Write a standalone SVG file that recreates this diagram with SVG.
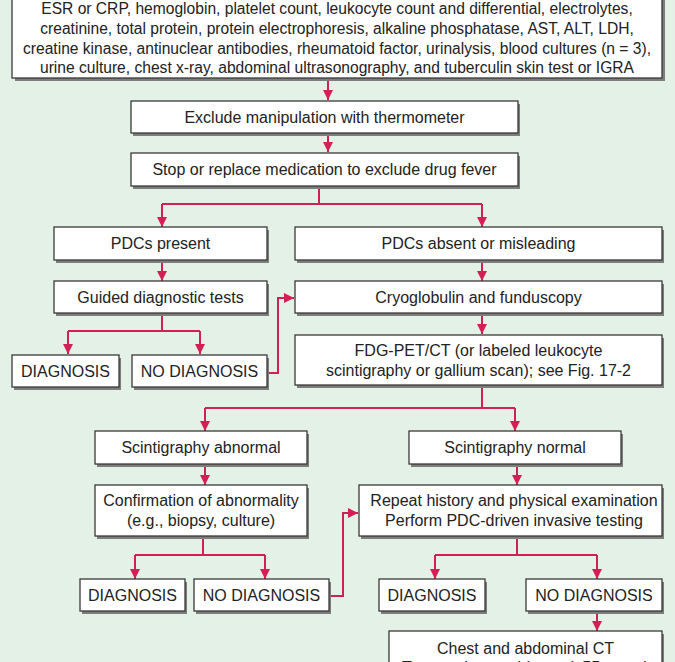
<svg xmlns="http://www.w3.org/2000/svg" width="675" height="662" viewBox="0 0 675 662">
<style>
.bg{fill:#e3f1e6}
.sh{fill:#7d7d7d}
.bx{fill:#ffffff;stroke:#3a3a3a;stroke-width:1.3}
.t{font-family:"Liberation Sans",Arial,sans-serif;font-size:16px;fill:#222;text-anchor:middle}
.tt{font-size:15.6px}
.c{fill:none;stroke:#d21f55;stroke-width:2}
</style>
<defs>
<marker id="ah" viewBox="0 0 10 10" refX="10" refY="5" markerWidth="5" markerHeight="5" orient="auto" markerUnits="strokeWidth">
<path d="M0,0 L10,5 L0,10 Z" fill="#d21f55"/>
</marker>
</defs>
<rect class="bg" x="0" y="0" width="675" height="662"/>

<g id="connectors">
<path class="c" d="M328,78 V100" marker-end="url(#ah)"/>
<path class="c" d="M328,133 V152" marker-end="url(#ah)"/>
<path class="c" d="M319,186 V204"/>
<path class="c" d="M162,204 H482"/>
<path class="c" d="M162,204 V227" marker-end="url(#ah)"/>
<path class="c" d="M482,204 V227" marker-end="url(#ah)"/>
<path class="c" d="M162,260 V281" marker-end="url(#ah)"/>
<path class="c" d="M162,313 V331 M68,331 H200"/>
<path class="c" d="M68,331 V354" marker-end="url(#ah)"/>
<path class="c" d="M200,331 V354" marker-end="url(#ah)"/>
<path class="c" d="M269,373 H278 V298 H294" marker-end="url(#ah)"/>
<path class="c" d="M482,260 V281" marker-end="url(#ah)"/>
<path class="c" d="M482,313 V334" marker-end="url(#ah)"/>
<path class="c" d="M482,385 V408 M205,408 H515"/>
<path class="c" d="M205,408 V431" marker-end="url(#ah)"/>
<path class="c" d="M515,408 V431" marker-end="url(#ah)"/>
<path class="c" d="M205,464 V485" marker-end="url(#ah)"/>
<path class="c" d="M517,464 V485" marker-end="url(#ah)"/>
<path class="c" d="M203,537 V555 M135,555 H265"/>
<path class="c" d="M135,555 V579" marker-end="url(#ah)"/>
<path class="c" d="M265,555 V579" marker-end="url(#ah)"/>
<path class="c" d="M330,596 H343 V513 H358" marker-end="url(#ah)"/>
<path class="c" d="M517,537 V555 M435,555 H597"/>
<path class="c" d="M435,555 V579" marker-end="url(#ah)"/>
<path class="c" d="M597,555 V579" marker-end="url(#ah)"/>
<path class="c" d="M597,611 V631" marker-end="url(#ah)"/>
</g>

<g id="n-initial">
<rect class="sh" x="15" y="-20" width="650" height="101"/>
<rect class="bx" x="12" y="-22" width="650" height="100"/>
<text class="t tt" x="337" y="14">ESR or CRP, hemoglobin, platelet count, leukocyte count and differential, electrolytes,</text>
<text class="t tt" x="337" y="34">creatinine, total protein, protein electrophoresis, alkaline phosphatase, AST, ALT, LDH,</text>
<text class="t tt" x="337" y="54">creatine kinase, antinuclear antibodies, rheumatoid factor, urinalysis, blood cultures (n = 3),</text>
<text class="t tt" x="337" y="73">urine culture, chest x-ray, abdominal ultrasonography, and tuberculin skin test or IGRA</text>
</g>

<g id="n-thermo">
<rect class="sh" x="133" y="104" width="387" height="32"/>
<rect class="bx" x="131" y="101" width="387" height="32"/>
<text class="t" x="324.5" y="123">Exclude manipulation with thermometer</text>
</g>

<g id="n-drug">
<rect class="sh" x="133" y="156" width="387" height="33"/>
<rect class="bx" x="131" y="153" width="387" height="33"/>
<text class="t" x="324.5" y="175">Stop or replace medication to exclude drug fever</text>
</g>

<g id="n-pdc-present">
<rect class="sh" x="56" y="230" width="213" height="33"/>
<rect class="bx" x="54" y="227" width="213" height="33"/>
<text class="t" x="160.5" y="249">PDCs present</text>
</g>

<g id="n-pdc-absent">
<rect class="sh" x="297" y="230" width="367" height="33"/>
<rect class="bx" x="295" y="227" width="367" height="33"/>
<text class="t" x="478.5" y="249">PDCs absent or misleading</text>
</g>

<g id="n-guided">
<rect class="sh" x="56" y="284" width="213" height="32"/>
<rect class="bx" x="54" y="281" width="213" height="32"/>
<text class="t" x="160.5" y="303">Guided diagnostic tests</text>
</g>

<g id="n-cryo">
<rect class="sh" x="297" y="284" width="367" height="32"/>
<rect class="bx" x="295" y="281" width="367" height="32"/>
<text class="t" x="478.5" y="303">Cryoglobulin and funduscopy</text>
</g>

<g id="n-diag1">
<rect class="sh" x="14" y="358" width="107" height="32"/>
<rect class="bx" x="12" y="355" width="107" height="32"/>
<text class="t" x="65.5" y="377">DIAGNOSIS</text>
</g>

<g id="n-nodiag1">
<rect class="sh" x="134" y="358" width="135" height="32"/>
<rect class="bx" x="132" y="355" width="135" height="32"/>
<text class="t" x="199.5" y="377">NO DIAGNOSIS</text>
</g>

<g id="n-fdg">
<rect class="sh" x="297" y="338" width="367" height="50"/>
<rect class="bx" x="295" y="335" width="367" height="50"/>
<text class="t" x="478.5" y="356">FDG-PET/CT (or labeled leukocyte</text>
<text class="t" x="478.5" y="376">scintigraphy or gallium scan); see Fig. 17-2</text>
</g>

<g id="n-scint-abn">
<rect class="sh" x="97" y="434" width="212" height="33"/>
<rect class="bx" x="95" y="431" width="212" height="33"/>
<text class="t" x="201" y="453">Scintigraphy abnormal</text>
</g>

<g id="n-scint-norm">
<rect class="sh" x="411" y="434" width="212" height="33"/>
<rect class="bx" x="409" y="431" width="212" height="33"/>
<text class="t" x="515" y="453">Scintigraphy normal</text>
</g>

<g id="n-confirm">
<rect class="sh" x="97" y="488" width="212" height="51"/>
<rect class="bx" x="95" y="485" width="212" height="51"/>
<text class="t" x="201" y="506">Confirmation of abnormality</text>
<text class="t" x="201" y="526">(e.g., biopsy, culture)</text>
</g>

<g id="n-repeat">
<rect class="sh" x="361" y="488" width="303" height="51"/>
<rect class="bx" x="359" y="485" width="303" height="51"/>
<text class="t" x="514" y="506">Repeat history and physical examination</text>
<text class="t" x="514" y="526">Perform PDC-driven invasive testing</text>
</g>

<g id="n-diag2">
<rect class="sh" x="82" y="582" width="105" height="32"/>
<rect class="bx" x="80" y="579" width="105" height="32"/>
<text class="t" x="132.5" y="601">DIAGNOSIS</text>
</g>

<g id="n-nodiag2">
<rect class="sh" x="196" y="582" width="135" height="32"/>
<rect class="bx" x="194" y="579" width="135" height="32"/>
<text class="t" x="261.5" y="601">NO DIAGNOSIS</text>
</g>

<g id="n-diag3">
<rect class="sh" x="381" y="582" width="106" height="32"/>
<rect class="bx" x="379" y="579" width="106" height="32"/>
<text class="t" x="432" y="601">DIAGNOSIS</text>
</g>

<g id="n-nodiag3">
<rect class="sh" x="528" y="582" width="136" height="32"/>
<rect class="bx" x="526" y="579" width="136" height="32"/>
<text class="t" x="594" y="601">NO DIAGNOSIS</text>
</g>

<g id="n-ct">
<rect class="sh" x="391" y="634" width="273" height="60"/>
<rect class="bx" x="389" y="631" width="273" height="60"/>
<text class="t" x="525.5" y="654">Chest and abdominal CT</text>
<text class="t" x="525.5" y="673">Temporal artery biopsy (≥55 years)</text>
</g>
</svg>
